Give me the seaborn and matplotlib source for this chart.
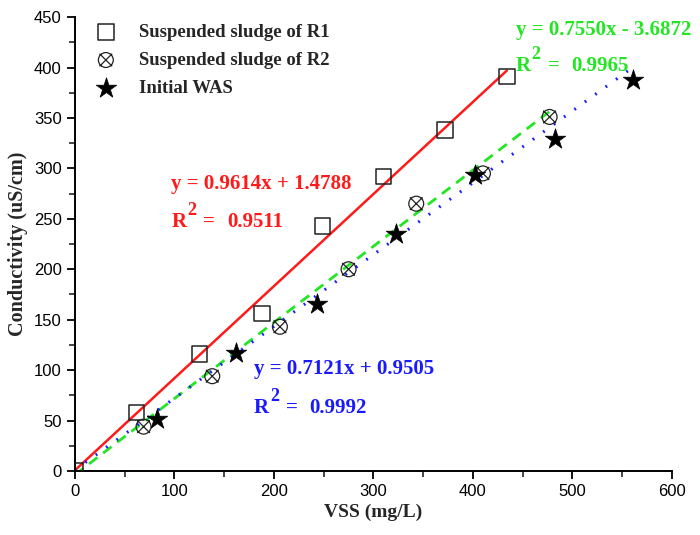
import numpy as np
import pandas as pd
import matplotlib
matplotlib.use("Agg")
import matplotlib.pyplot as plt
from matplotlib.path import Path
from matplotlib.ticker import MultipleLocator
import seaborn as sns

# values
r1_vss = [0, 62, 125, 188, 249, 310, 372, 434]
r1_cond = [0, 58, 116, 156, 243, 292, 338, 391]
r2_vss = [69, 138, 206, 275, 343, 410, 477]
r2_cond = [44, 94, 143, 200, 265, 295, 351]
was_vss = [82, 162, 243, 323, 402, 482, 561]
was_cond = [52, 117, 166, 235, 293, 329, 388]

labels = ["Suspended sludge of R1", "Suspended sludge of R2", "Initial WAS"]

# equations printed on the chart: slope, intercept, R^2
fit_r1 = [0.9614, 1.4788, 0.9511]
fit_r2 = [0.7550, -3.6872, 0.9965]
fit_was = [0.7121, 0.9505, 0.9992]

RED, GREEN, BLUE = "#ff1a1a", "#22e622", "#1a1aff"

sns.set_style("ticks")
plt.rcParams["font.family"] = ["Liberation Sans", "DejaVu Sans"]

SERIF = ["Liberation Serif", "DejaVu Serif"]

# circle with a cross through it
k = 0.85
cross = Path([(-k, -k), (k, k), (-k, k), (k, -k)],
             [Path.MOVETO, Path.LINETO, Path.MOVETO, Path.LINETO])
circle_x = Path.make_compound_path(Path.unit_circle(), cross)

fig = plt.figure(figsize=(7, 5.35), dpi=100)
ax = fig.add_axes([0.107, 0.1196, 0.853, 0.8485])


def line_frame(xs, slope, icpt):
    x = np.array([0, max(xs)], dtype=float)
    return pd.DataFrame({"x": x, "y": slope * x + icpt})


# the red line drawn in the original is the least-squares line of the R1
# points (its printed equation does not quite match it)
r1_slope, r1_icpt = np.polyfit(r1_vss, r1_cond, 1)

sns.lineplot(data=line_frame(r1_vss, r1_slope, r1_icpt), x="x", y="y",
             ax=ax, color=RED, lw=1.8, legend=False)
sns.lineplot(data=line_frame(r2_vss, fit_r2[0], fit_r2[1]), x="x", y="y",
             ax=ax, color=GREEN, lw=2, legend=False,
             linestyle=(0, (3.8, 2.6)))
sns.lineplot(data=line_frame(was_vss, fit_was[0], fit_was[1]), x="x", y="y",
             ax=ax, color=BLUE, lw=2.2, legend=False,
             linestyle=(0, (0.6, 3.6)))

sns.scatterplot(x=r1_vss, y=r1_cond, ax=ax, marker="s", s=125,
                color="black", facecolor="none", edgecolor="#222222",
                linewidth=1.1, label=labels[0], zorder=3)
sns.scatterplot(x=r2_vss, y=r2_cond, ax=ax, marker=circle_x, s=115,
                color="black", facecolor="none", edgecolor="#222222",
                linewidth=0.9, label=labels[1], zorder=3)
sns.scatterplot(x=was_vss, y=was_cond, ax=ax, marker="*", s=240,
                color="black", edgecolor="black", linewidth=0.5,
                label=labels[2], zorder=4)

ax.set_xlim(0, 600)
ax.set_ylim(0, 450)
ax.xaxis.set_major_locator(MultipleLocator(100))
ax.xaxis.set_minor_locator(MultipleLocator(50))
ax.yaxis.set_major_locator(MultipleLocator(50))
ax.yaxis.set_minor_locator(MultipleLocator(25))
ax.tick_params(which="major", direction="out", length=6, width=1.3,
               labelsize=12, colors="black")
ax.tick_params(which="minor", direction="out", length=4, width=1.2)
sns.despine(ax=ax)
for side in ["left", "bottom"]:
    ax.spines[side].set_linewidth(1.4)
    ax.spines[side].set_color("black")

ax.set_xlabel("VSS (mg/L)", family=SERIF, fontweight="bold", fontsize=14,
              labelpad=3)
ax.set_ylabel("Conductivity (uS/cm)", family=SERIF, fontweight="bold",
              fontsize=14.5, labelpad=4)

ax.legend(loc="upper left", bbox_to_anchor=(0, 1.012), frameon=False,
          labelspacing=0.58, handletextpad=0.75, borderaxespad=0.2,
          borderpad=0.45,
          prop={"family": SERIF, "weight": "bold", "size": 13.5})

txt = dict(family=SERIF, fontweight="bold", fontsize=15, va="baseline",
           ha="left")


def eq_label(x, y, fit, color):
    sign = "+" if fit[1] >= 0 else "-"
    ax.text(x, y, f"y = {fit[0]:.4f}x {sign} {abs(fit[1]):.4f}",
            color=color, **txt)


def r2_label(x, y, fit, color):
    ax.text(x, y, "R", color=color, **txt)
    ax.annotate("2", (x, y), xytext=(11.5, 8.5), textcoords="offset points",
                color=color, **{**txt, "fontsize": 13})
    ax.annotate("=", (x, y), xytext=(23, 0), textcoords="offset points",
                color=color, **txt)
    ax.annotate(f"{fit[2]:.4f}", (x, y), xytext=(40, 0),
                textcoords="offset points", color=color, **txt)


eq_label(97, 280, fit_r1, RED)
r2_label(97, 242, fit_r1, RED)
eq_label(180, 96, fit_was, BLUE)
r2_label(180, 58, fit_was, BLUE)
eq_label(443, 432, fit_r2, GREEN)
r2_label(443, 397, fit_r2, GREEN)

fig.savefig("out.png", dpi=100)
